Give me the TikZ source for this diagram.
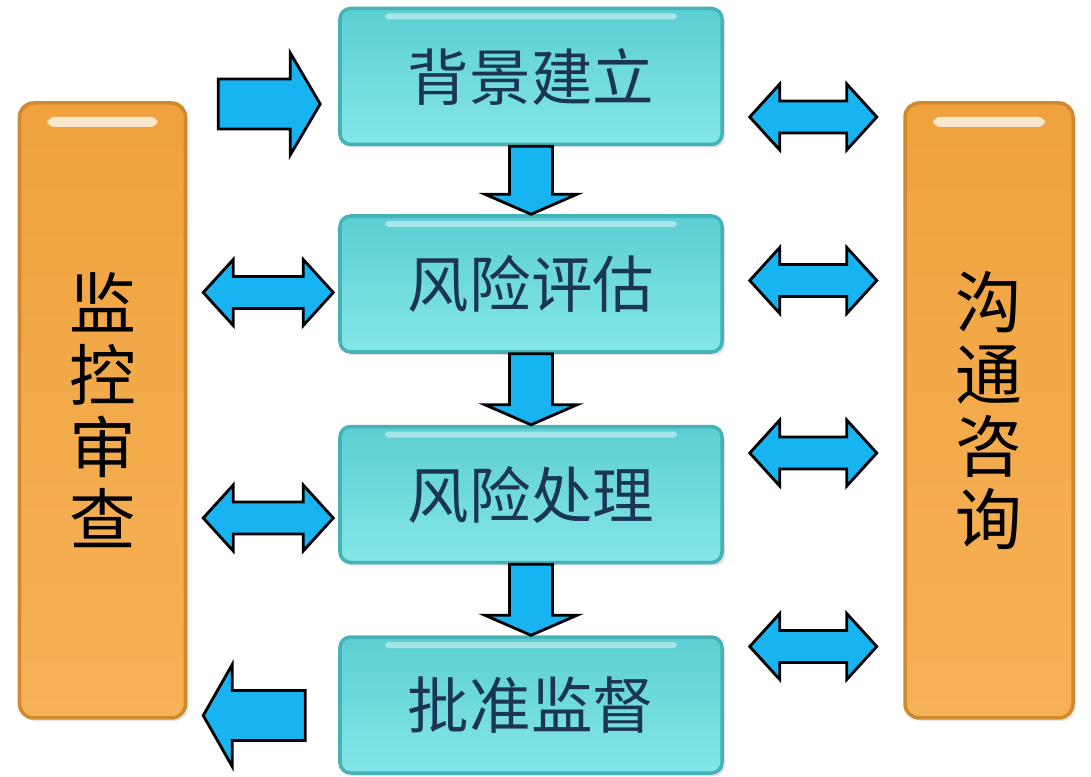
\documentclass[tikz,border=0pt]{standalone}
\usepackage{fontspec}
\newfontfamily\cjk{Noto Sans CJK SC}
\usetikzlibrary{positioning,calc,shadows}
\definecolor{sky}{HTML}{18B4F2}
\definecolor{tealtop}{HTML}{5CCFD3}
\definecolor{tealbot}{HTML}{84E6E8}
\definecolor{tealedge}{HTML}{44B3B8}
\definecolor{navy}{HTML}{1B3557}
\definecolor{ambertop}{HTML}{EFA23E}
\definecolor{amberbot}{HTML}{F6B257}
\definecolor{amberedge}{HTML}{CF8A30}

% block arrows: right (tail, tip), left (tip, tail), both (left tip, right tip), down (from box, to box)
\newcommand{\blockright}[2]{%
    \draw[blockarrow] ($(#1)+(0,0.25)$) -- ($(#2)+(-0.3,0.25)$) -- ($(#2)+(-0.3,0.51)$) -- (#2)
        -- ($(#2)+(-0.3,-0.51)$) -- ($(#2)+(-0.3,-0.25)$) -- ($(#1)+(0,-0.25)$) -- cycle;}
\newcommand{\blockleft}[2]{%
    \draw[blockarrow] (#1) -- ($(#1)+(0.29,0.51)$) -- ($(#1)+(0.29,0.25)$) -- ($(#2)+(0,0.25)$)
        -- ($(#2)+(0,-0.25)$) -- ($(#1)+(0.29,-0.25)$) -- ($(#1)+(0.29,-0.51)$) -- cycle;}
\newcommand{\blockboth}[2]{%
    \draw[blockarrow] (#1) -- ($(#1)+(0.3,0.33)$) -- ($(#1)+(0.3,0.16)$) -- ($(#2)+(-0.3,0.16)$)
        -- ($(#2)+(-0.3,0.33)$) -- (#2) -- ($(#2)+(-0.3,-0.33)$) -- ($(#2)+(-0.3,-0.16)$)
        -- ($(#1)+(0.3,-0.16)$) -- ($(#1)+(0.3,-0.33)$) -- cycle;}
\newcommand{\blockdown}[2]{%
    \draw[blockarrow] ($(#1.south)+(-0.215,0)$) -- ($(#2.north)+(-0.215,0.2)$) -- ($(#2.north)+(-0.46,0.2)$)
        -- (#2.north) -- ($(#2.north)+(0.46,0.2)$) -- ($(#2.north)+(0.215,0.2)$) -- ($(#1.south)+(0.215,0)$) -- cycle;}

\begin{document}
\begin{tikzpicture}[
    stagebox/.style={rectangle, rounded corners=3pt, minimum width=3.82cm, minimum height=1.36cm,
        top color=tealtop, bottom color=tealbot, draw=tealedge, line width=1pt,
        text=navy, font=\cjk\fontsize{17.5}{20}\selectfont,
        drop shadow={opacity=0.25, shadow xshift=0.03cm, shadow yshift=-0.03cm},
        path picture={\fill[white, opacity=0.45, rounded corners=1pt]
            ($(path picture bounding box.north west)+(0.45,-0.05)$) rectangle
            ($(path picture bounding box.north east)+(-0.45,-0.11)$);}},
    sidebar/.style={rectangle, rounded corners=4pt, minimum width=1.66cm, minimum height=6.15cm,
        top color=ambertop, bottom color=amberbot, draw=amberedge, line width=1pt,
        align=center, font=\cjk\fontsize{19}{20.5}\selectfont,
        drop shadow={opacity=0.2, shadow xshift=0.03cm, shadow yshift=-0.03cm},
        path picture={\fill[white, opacity=0.75, rounded corners=2pt]
            ($(path picture bounding box.north west)+(0.28,-0.14)$) rectangle
            ($(path picture bounding box.north east)+(-0.28,-0.24)$);}},
    blockarrow/.style={fill=sky, draw=black, line width=0.8pt, line join=miter},
]
\useasboundingbox (0,0) rectangle (10.91,7.77);

% Process chain
\node[stagebox] (context) at (5.31,7.005) {背景建立};
\node[stagebox, below=0.68cm of context] (assess) {风险评估};
\node[stagebox, below=0.71cm of assess] (treat) {风险处理};
\node[stagebox, below=0.71cm of treat] (approve) {批准监督};

% Side bars
\node[sidebar] (monitor) at (1.025,3.665) {监\\控\\审\\查};
\node[sidebar, minimum width=1.68cm] (consult) at (9.89,3.665) {沟\\通\\咨\\询};

% Down arrows
\foreach \a/\b in {context/assess, assess/treat, treat/approve} {
    \blockdown{\a}{\b}
}

% Left side
\coordinate (in tail) at ($(context.west)+(-1.2,-0.275)$);
\coordinate (in tip) at ($(context.west)+(-0.18,-0.275)$);
\blockright{in tail}{in tip}
\foreach \stage/\dy in {assess/-0.085, treat/-0.235} {
    \coordinate (l a) at ($(\stage.west)+(-1.35,\dy)$);
    \coordinate (l b) at ($(\stage.west)+(-0.05,\dy)$);
    \blockboth{l a}{l b}
}
\coordinate (out tip) at ($(approve.west)+(-1.35,-0.105)$);
\coordinate (out tail) at ($(approve.west)+(-0.33,-0.105)$);
\blockleft{out tip}{out tail}

% Right side
\foreach \stage/\dy in {context/-0.405, assess/0.035, treat/0.415, approve/0.585} {
    \coordinate (r a) at ($(\stage.east)+(0.26,\dy)$);
    \coordinate (r b) at ($(\stage.east)+(1.53,\dy)$);
    \blockboth{r a}{r b}
}

\end{tikzpicture}
\end{document}
